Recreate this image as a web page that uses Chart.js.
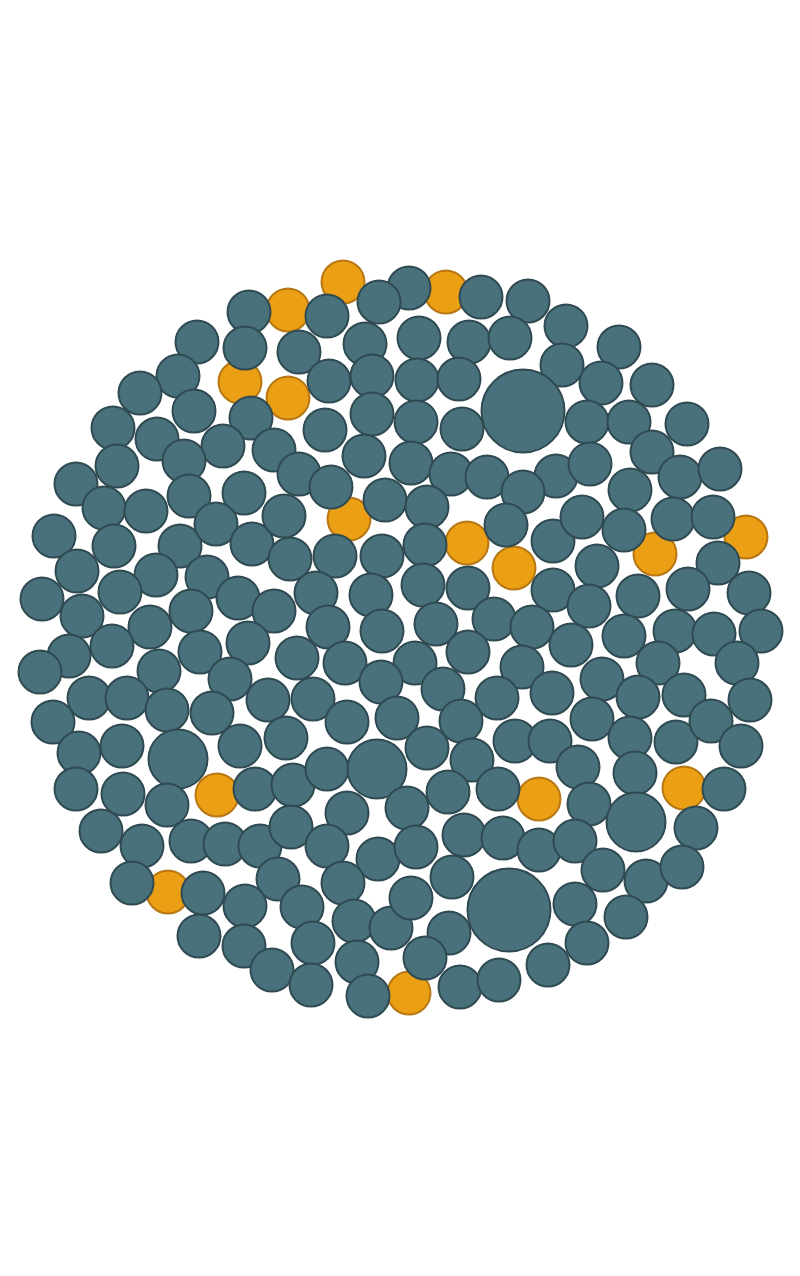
<!DOCTYPE html>
<html>
<head>
<meta charset="utf-8">
<title>Bubble pack</title>
<script src="https://cdn.jsdelivr.net/npm/chart.js@4.4.1/dist/chart.umd.min.js"></script>
<style>
  html, body { margin: 0; padding: 0; background: #fff; overflow: hidden; }
  #wrap { position: relative; width: 800px; height: 1276px; }
</style>
</head>
<body>
<div id="wrap"><canvas id="chart"></canvas></div>
<script>
'use strict';
// bubble data (x, y in layout units, r = bubble radius)
var otherX = [409,481,528,249,379,327,566,197,245,299,365,419,469,510,619,178,140,329,372,417,459,562,601,652,523,194,251,113,157,223,274,325,372,416,462,587,629,687,
  117,184,364,411,451,487,556,590,652,680,720,76,104,146,189,244,299,331,385,427,523,630,54,114,180,216,252,284,335,290,382,425,506,553,582,624,673,713,718,597,
  77,156,207,423,468,553,42,120,82,150,191,238,274,316,371,328,382,436,494,532,589,638,688,749,624,675,714,761,69,112,40,159,200,248,297,345,415,468,522,571,658,737,
  89,127,167,230,212,268,313,381,443,497,552,602,638,684,750,53,122,79,178,240,286,347,397,461,515,550,592,630,676,711,741,
  76,123,167,255,293,327,377,427,472,448,498,578,589,635,636,724,101,142,191,225,260,291,347,407,327,378,416,464,503,539,575,696,
  132,203,278,343,452,509,603,646,682,199,245,302,354,391,411,449,575,626,244,313,272,357,425,587,311,368,460,499,548];
var otherY = [288,297,301,312,302,316,326,342,348,352,344,338,342,338,347,376,393,381,376,380,379,365,383,385,411,411,418,428,439,446,450,430,414,422,429,422,422,424,
  466,461,456,463,474,477,476,464,452,477,469,484,508,511,496,493,474,487,500,507,492,490,536,546,546,524,544,516,556,559,556,545,525,541,517,530,519,517,563,566,
  571,575,577,585,588,590,599,592,616,627,611,598,611,593,595,627,631,624,619,627,606,596,589,593,636,631,634,631,656,646,672,671,652,643,658,663,663,652,667,645,663,663,
  698,698,710,679,713,700,699,682,689,698,693,679,697,695,700,722,746,753,759,746,738,722,718,721,741,741,719,738,742,721,746,
  789,794,805,789,785,769,769,748,760,792,789,767,804,773,822,789,831,846,841,844,846,827,813,808,846,859,847,835,838,850,841,828,
  883,893,879,883,877,910,870,881,867,936,906,907,921,928,898,933,904,917,946,943,970,962,958,943,985,996,987,980,965];
var otherR = [];
var markedX = [343,446,288,240,288,349,467,514,655,746,217,539,684,168,409];
var markedY = [282,292,310,382,398,519,543,568,554,537,795,799,788,892,993];
var markedR = [];

// sizes: most bubbles are the same, a few are bigger
var bigOnes = { '523,411': 41.5, '509,910': 41.5, '178,759': 29.5, '377,769': 29.5, '636,822': 29.5 };
for (var i = 0; i < otherX.length; i++) {
  otherR.push(bigOnes[otherX[i] + ',' + otherY[i]] || 21.5);
}
for (var j = 0; j < markedX.length; j++) {
  markedR.push(21.5);
}

function toPoints(xs, ys, rs) {
  var pts = [];
  for (var k = 0; k < xs.length; k++) {
    pts.push({ x: xs[k], y: ys[k], r: rs[k] });
  }
  return pts;
}

var ctx = document.getElementById('chart').getContext('2d');
var chart = new Chart(ctx, {
  type: 'bubble',
  data: {
    datasets: [{
      label: 'Other',
      data: toPoints(otherX, otherY, otherR),
      backgroundColor: 'rgb(73,113,124)',
      borderColor: 'rgb(48,74,82)',
      borderWidth: 2,
      clip: false
    }, {
      label: 'Marked',
      data: toPoints(markedX, markedY, markedR),
      backgroundColor: 'rgba(232,151,0,0.92)',
      borderColor: 'rgba(176,110,8,0.9)',
      borderWidth: 2,
      clip: false
    }]
  },
  options: {
    responsive: true,
    maintainAspectRatio: false,
    animation: false,
    layout: { padding: 0, autoPadding: false },
    plugins: { legend: { display: false }, tooltip: { enabled: false } },
    scales: {
      x: { type: 'linear', min: 0, max: 800, display: false },
      y: { type: 'linear', min: 0, max: 1276, reverse: true, display: false }
    }
  }
});
</script>
</body>
</html>
